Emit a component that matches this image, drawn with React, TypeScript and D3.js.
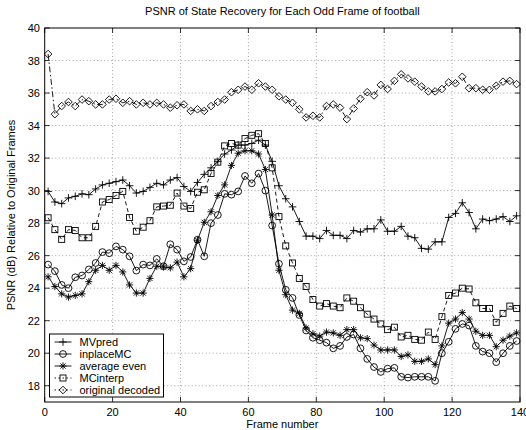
import React from "react";
import * as d3 from "d3";

const frames: number[] = d3.range(1, 140, 2);

const mvpred = [29.95, 29.3, 29.2, 29.55, 29.65, 29.8, 29.75, 30.1, 30.35, 30.45, 30.55, 30.65, 30.3, 29.85, 29.95, 30.2, 30.45, 30.35, 30.65, 30.8, 30.25, 29.95, 30.5, 31.0, 31.4, 31.8, 32.25, 32.5, 32.8, 32.8, 32.9, 33.1, 32.8, 31.8, 30.3, 29.5, 29.0, 28.1, 27.2, 27.2, 27.05, 27.55, 27.25, 27.25, 27.05, 27.55, 27.45, 27.65, 27.65, 28.2, 27.5, 27.5, 27.8, 27.2, 27.1, 26.45, 26.4, 26.85, 26.85, 28.35, 28.6, 29.25, 28.65, 27.65, 28.25, 28.15, 28.25, 28.4, 28.1, 28.45];
const inplaceMC = [25.45, 25.05, 24.2, 24.0, 24.67, 24.78, 25.15, 25.55, 26.22, 26.15, 26.57, 26.37, 25.96, 25.08, 25.45, 25.4, 25.8, 25.35, 26.7, 26.37, 25.65, 25.92, 26.98, 25.96, 28.0, 28.5, 29.8, 29.75, 29.95, 30.9, 30.45, 31.05, 30.0, 27.85, 25.5, 23.9, 23.4, 22.35, 21.4, 20.95, 20.8, 20.65, 20.3, 20.45, 21.0, 21.15, 20.3, 19.65, 19.15, 18.85, 19.05, 19.1, 18.55, 18.5, 18.55, 18.55, 18.55, 18.3, 20.0, 20.7, 21.5, 21.8, 21.7, 20.45, 20.1, 20.0, 19.45, 20.0, 20.45, 20.75];
const averageEven = [24.7, 24.1, 23.65, 23.45, 23.55, 23.65, 24.4, 25.1, 25.4, 25.1, 25.4, 25.0, 24.2, 23.7, 23.7, 24.6, 25.35, 25.3, 25.25, 25.6, 24.7, 25.2, 26.95, 28.05, 28.7, 29.7, 30.35, 31.55, 32.3, 32.45, 32.45, 32.25, 31.3, 28.5, 25.1, 23.6, 22.65, 22.45, 21.55, 21.2, 21.05, 21.3, 21.25, 21.1, 21.45, 21.45, 20.95, 20.9, 20.5, 20.2, 20.2, 20.2, 19.8, 19.9, 19.5, 19.5, 19.65, 19.3, 20.45, 21.85, 22.1, 22.5, 22.1, 21.35, 21.1, 21.1, 20.4, 20.8, 21.05, 21.25];
const mcInterp = [28.33, 27.6, 27.0, 27.6, 27.55, 27.1, 27.1, 27.8, 29.3, 29.45, 29.7, 29.95, 28.35, 27.5, 27.75, 28.15, 29.0, 29.05, 29.1, 29.85, 29.05, 28.9, 29.9, 30.05, 31.05, 31.75, 32.75, 32.9, 32.8, 33.2, 33.4, 33.5, 32.9, 31.4, 28.4, 26.6, 25.55, 24.6, 24.1, 23.3, 22.9, 23.05, 22.9, 22.8, 23.4, 23.2, 22.8, 22.4, 22.1, 21.8, 21.45, 21.6, 21.0, 21.1, 20.85, 20.8, 21.3, 20.85, 22.25, 23.55, 23.7, 24.0, 23.95, 23.1, 22.75, 22.75, 21.9, 22.45, 22.9, 22.75];
const originalDecoded = [38.4, 34.7, 35.2, 35.45, 35.2, 35.6, 35.5, 35.3, 35.3, 35.6, 35.65, 35.4, 35.5, 35.3, 35.4, 35.3, 35.4, 35.3, 35.1, 35.25, 35.3, 34.9, 35.0, 34.9, 35.2, 35.45, 35.6, 36.05, 36.2, 36.4, 36.2, 36.6, 36.4, 36.2, 35.8, 35.6, 35.4, 35.0, 34.5, 34.6, 34.5, 35.2, 35.3, 35.1, 34.4, 35.05, 35.65, 36.05, 35.85, 36.5, 36.25, 36.75, 37.15, 36.9, 36.7, 36.4, 36.1, 36.1, 36.25, 36.65, 36.6, 37.0, 36.3, 36.3, 36.2, 36.2, 36.45, 36.7, 36.75, 36.55];

const seriesNames = ["MVpred", "inplaceMC", "average even", "MCinterp", "original decoded"];
const xTicks = [0, 20, 40, 60, 80, 100, 120, 140];
const yTicks = [18, 20, 22, 24, 26, 28, 30, 32, 34, 36, 38, 40];

const W = 526, H = 430;
const L = 44.7, R = 520, T = 28, B = 402;
const FONT = "'Liberation Sans', Arial, Helvetica, sans-serif";

type Marker = "plus" | "circle" | "star" | "square" | "diamond";

function MarkerShape({ kind, x, y }: { kind: Marker; x: number; y: number }) {
  const s = { fill: "none", stroke: "#000", strokeWidth: 0.9 } as const;
  if (kind === "plus") {
    const r = 3.8;
    return <path d={`M${x - r},${y}H${x + r}M${x},${y - r}V${y + r}`} {...s} />;
  }
  if (kind === "circle") return <circle cx={x} cy={y} r={3.4} {...s} />;
  if (kind === "star") {
    const r = 3.6, q = 2.6;
    return <path d={`M${x - r},${y}H${x + r}M${x},${y - r}V${y + r}M${x - q},${y - q}L${x + q},${y + q}M${x - q},${y + q}L${x + q},${y - q}`} {...s} />;
  }
  if (kind === "square") return <rect x={x - 3} y={y - 3} width={6} height={6} {...s} />;
  const r = 3.8;
  return <path d={`M${x},${y - r}L${x + r},${y}L${x},${y + r}L${x - r},${y}Z`} {...s} />;
}

export default function App() {
  const x = d3.scaleLinear().domain([0, 140]).range([L, R]);
  const y = d3.scaleLinear().domain([17, 40]).range([B, T]);
  const line = d3.line<number>().x((_, i) => x(frames[i])).y((d) => y(d));

  const series: { name: string; data: number[]; marker: Marker; dash?: string }[] = [
    { name: seriesNames[0], data: mvpred, marker: "plus" },
    { name: seriesNames[1], data: inplaceMC, marker: "circle" },
    { name: seriesNames[2], data: averageEven, marker: "star" },
    { name: seriesNames[3], data: mcInterp, marker: "square", dash: "4,3" },
    { name: seriesNames[4], data: originalDecoded, marker: "diamond", dash: "6,2.5,1.5,2.5" },
  ];

  const legX = 49.5, legY = 334, legW = 114, legH = 63;

  return (
    <svg width={W} height={H} style={{ position: "absolute", left: 0, top: 0, background: "#fff" }} fontFamily={FONT}>
      <rect x={0} y={0} width={W} height={H} fill="#fff" />
      {/* grid */}
      {xTicks.slice(1, -1).map((t) => (
        <line key={"gx" + t} x1={x(t)} x2={x(t)} y1={T} y2={B} stroke="#666" strokeWidth={0.6} strokeDasharray="1,2.5" />
      ))}
      {yTicks.slice(0, -1).map((t) => (
        <line key={"gy" + t} x1={L} x2={R} y1={y(t)} y2={y(t)} stroke="#666" strokeWidth={0.6} strokeDasharray="1,2.5" />
      ))}
      {/* series */}
      {series.map((s) => (
        <g key={s.name}>
          <path d={line(s.data) || ""} fill="none" stroke="#000" strokeWidth={0.9} strokeDasharray={s.dash} />
          {s.data.map((v, i) => (
            <MarkerShape key={i} kind={s.marker} x={x(frames[i])} y={y(v)} />
          ))}
        </g>
      ))}
      {/* ticks */}
      {xTicks.map((t) => (
        <g key={"tx" + t}>
          <line x1={x(t)} x2={x(t)} y1={B} y2={B - 5} stroke="#000" strokeWidth={0.8} />
          <line x1={x(t)} x2={x(t)} y1={T} y2={T + 5} stroke="#000" strokeWidth={0.8} />
          <text x={x(t)} y={416} fontSize={11} textAnchor="middle">{t}</text>
        </g>
      ))}
      {yTicks.map((t) => (
        <g key={"ty" + t}>
          <line x1={L} x2={L + 5} y1={y(t)} y2={y(t)} stroke="#000" strokeWidth={0.8} />
          <line x1={R} x2={R - 5} y1={y(t)} y2={y(t)} stroke="#000" strokeWidth={0.8} />
          <text x={40} y={y(t) + 4} fontSize={11} textAnchor="end">{t}</text>
        </g>
      ))}
      <rect x={L} y={T} width={R - L} height={B - T} fill="none" stroke="#000" strokeWidth={1} />
      {/* legend */}
      <rect x={legX} y={legY} width={legW} height={legH} fill="#fff" stroke="#000" strokeWidth={1} />
      {series.map((s, i) => {
        const cy = legY + 8 + i * 12;
        return (
          <g key={"leg" + s.name}>
            <line x1={legX + 5} x2={legX + 22} y1={cy} y2={cy} stroke="#000" strokeWidth={0.9} strokeDasharray={s.dash ? "1.5,2.5" : undefined} />
            <MarkerShape kind={s.marker} x={legX + 13.5} y={cy} />
            <text x={legX + 30} y={cy + 4} fontSize={11}>{s.name}</text>
          </g>
        );
      })}
      {/* labels */}
      <text x={(L + R) / 2} y={15} fontSize={11} textAnchor="middle">PSNR of State Recovery for Each Odd Frame of football</text>
      <text x={(L + R) / 2} y={428} fontSize={11} textAnchor="middle">Frame number</text>
      <text transform={`translate(15,${(T + B) / 2}) rotate(-90)`} fontSize={11} textAnchor="middle">PSNR (dB) Relative to Original Frames</text>
    </svg>
  );
}
